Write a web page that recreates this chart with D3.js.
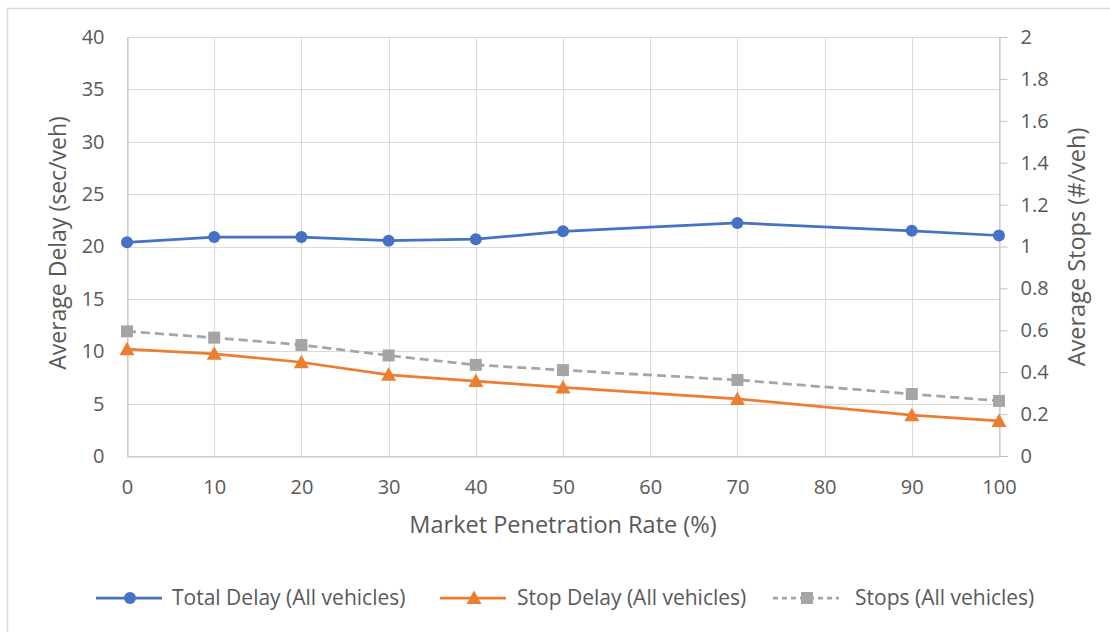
<!DOCTYPE html>
<html>
<head>
<meta charset="utf-8">
<script src="https://cdn.jsdelivr.net/npm/d3@7"></script>
<style>
  body { margin: 0; background: #fff; }
  svg { display: block; font-family: "Open Sans", sans-serif; }
</style>
</head>
<body>
<svg id="chart" width="1110" height="632"></svg>
<script>
// market penetration rate (%)
var rates = [0, 10, 20, 30, 40, 50, 70, 90, 100];
var totalDelay = [20.4, 20.9, 20.9, 20.55, 20.7, 21.45, 22.25, 21.5, 21.05];
var stopDelay = [10.2, 9.75, 8.95, 7.75, 7.15, 6.55, 5.45, 3.9, 3.35];
var stops = [0.595, 0.565, 0.53, 0.48, 0.435, 0.41, 0.363, 0.296, 0.263];

var xTicks = d3.range(0, 101, 10);
var leftTicks = d3.range(0, 41, 5);
var rightTicks = [0, 0.2, 0.4, 0.6, 0.8, 1, 1.2, 1.4, 1.6, 1.8, 2];

var series = [
  {name: "Total Delay (All vehicles)", values: totalDelay, axis: "left", color: "#4472C4", marker: "circle", dash: null},
  {name: "Stop Delay (All vehicles)", values: stopDelay, axis: "left", color: "#ED7D31", marker: "triangle", dash: null},
  {name: "Stops (All vehicles)", values: stops, axis: "right", color: "#A5A5A5", marker: "square", dash: "9,5"}
];

var svg = d3.select("#chart");
var plotLeft = 127, plotRight = 999, plotTop = 37, plotBottom = 456;

// outer frame
svg.append("path")
  .attr("d", "M7.5,640V8.5H1120")
  .attr("fill", "none")
  .attr("stroke", "#d9d9d9")
  .attr("stroke-width", 1.5);

var x = d3.scaleLinear().domain([0, 100]).range([plotLeft, plotRight]);
var yL = d3.scaleLinear().domain([0, 40]).range([plotBottom, plotTop]);
var yR = d3.scaleLinear().domain([0, 2]).range([plotBottom, plotTop]);

// gridlines
var grid = svg.append("g");
grid.selectAll(".hg").data(leftTicks).enter().append("line")
  .attr("x1", plotLeft).attr("x2", plotRight)
  .attr("y1", function(d){ return Math.round(yL(d)) + 0.5; })
  .attr("y2", function(d){ return Math.round(yL(d)) + 0.5; })
  .attr("stroke", "#d9d9d9").attr("stroke-width", 1);
grid.selectAll(".vg").data(xTicks).enter().append("line")
  .attr("x1", function(d){ return Math.round(x(d)) + 0.5; })
  .attr("x2", function(d){ return Math.round(x(d)) + 0.5; })
  .attr("y1", plotTop).attr("y2", plotBottom)
  .attr("stroke", "#d9d9d9").attr("stroke-width", 1);

// axes
var xAxis = svg.append("g")
  .attr("transform", "translate(0," + (plotBottom + 0.5) + ")")
  .call(d3.axisBottom(x).tickValues(xTicks).tickSize(0).tickPadding(23));

var lAxis = svg.append("g")
  .attr("transform", "translate(" + (plotLeft + 0.5) + ",0)")
  .call(d3.axisLeft(yL).tickValues(leftTicks).tickSize(0).tickPadding(23));

var rAxis = svg.append("g")
  .attr("transform", "translate(" + (plotRight + 0.5) + ",0)")
  .call(d3.axisRight(yR).tickValues(rightTicks).tickSize(8).tickPadding(13)
    .tickFormat(function(d){ return String(+d.toFixed(1)); }));
rAxis.selectAll(".tick line").attr("stroke", "#bfbfbf");

[xAxis, lAxis, rAxis].forEach(function(a) {
  a.attr("font-family", null).attr("font-size", null);
  a.select(".domain").attr("stroke", "#bfbfbf").attr("stroke-width", 1);
  a.selectAll(".tick text")
    .attr("fill", "#595959")
    .style("font-family", "'Open Sans', sans-serif")
    .style("font-size", "20px");
});

// axis titles
svg.append("text")
  .attr("x", 563).attr("y", 533)
  .attr("text-anchor", "middle")
  .attr("fill", "#595959").attr("font-size", 23.5)
  .text("Market Penetration Rate (%)");
svg.append("text")
  .attr("transform", "translate(66,243) rotate(-90)")
  .attr("text-anchor", "middle")
  .attr("fill", "#595959").attr("font-size", 23)
  .text("Average Delay (sec/veh)");
svg.append("text")
  .attr("transform", "translate(1085,247) rotate(-90)")
  .attr("text-anchor", "middle")
  .attr("fill", "#595959").attr("font-size", 23.5)
  .text("Average Stops (#/veh)");

function drawMarker(g, type, color) {
  if (type === "circle") {
    g.append("circle").attr("r", 6).attr("fill", color);
  } else if (type === "triangle") {
    g.append("path").attr("d", "M0,-7.5L7.5,6L-7.5,6Z").attr("fill", color);
  } else {
    g.append("rect").attr("x", -6).attr("y", -6).attr("width", 12).attr("height", 12).attr("fill", color);
  }
}

// series
series.forEach(function(s) {
  var yS = s.axis === "left" ? yL : yR;
  var line = d3.line()
    .x(function(d, i){ return x(rates[i]); })
    .y(function(d){ return yS(d); });
  svg.append("path")
    .datum(s.values)
    .attr("d", line)
    .attr("fill", "none")
    .attr("stroke", s.color)
    .attr("stroke-width", 2.75)
    .attr("stroke-dasharray", s.dash);
  s.values.forEach(function(v, i) {
    var g = svg.append("g").attr("transform", "translate(" + x(rates[i]) + "," + yS(v) + ")");
    drawMarker(g, s.marker, s.color);
  });
});

// legend
var legendX = [96, 440, 773];
var legendTextX = [76, 77, 82];
series.forEach(function(s, i) {
  var g = svg.append("g").attr("transform", "translate(" + legendX[i] + ",598)");
  g.append("line")
    .attr("x1", 0).attr("x2", 66)
    .attr("stroke", s.color).attr("stroke-width", 2.75)
    .attr("stroke-dasharray", s.dash ? "5,4" : null);
  var m = g.append("g").attr("transform", "translate(34,0)");
  drawMarker(m, s.marker, s.color);
  g.append("text")
    .attr("x", legendTextX[i]).attr("y", 7)
    .attr("fill", "#595959").attr("font-size", 21)
    .text(s.name);
});
</script>
</body>
</html>
